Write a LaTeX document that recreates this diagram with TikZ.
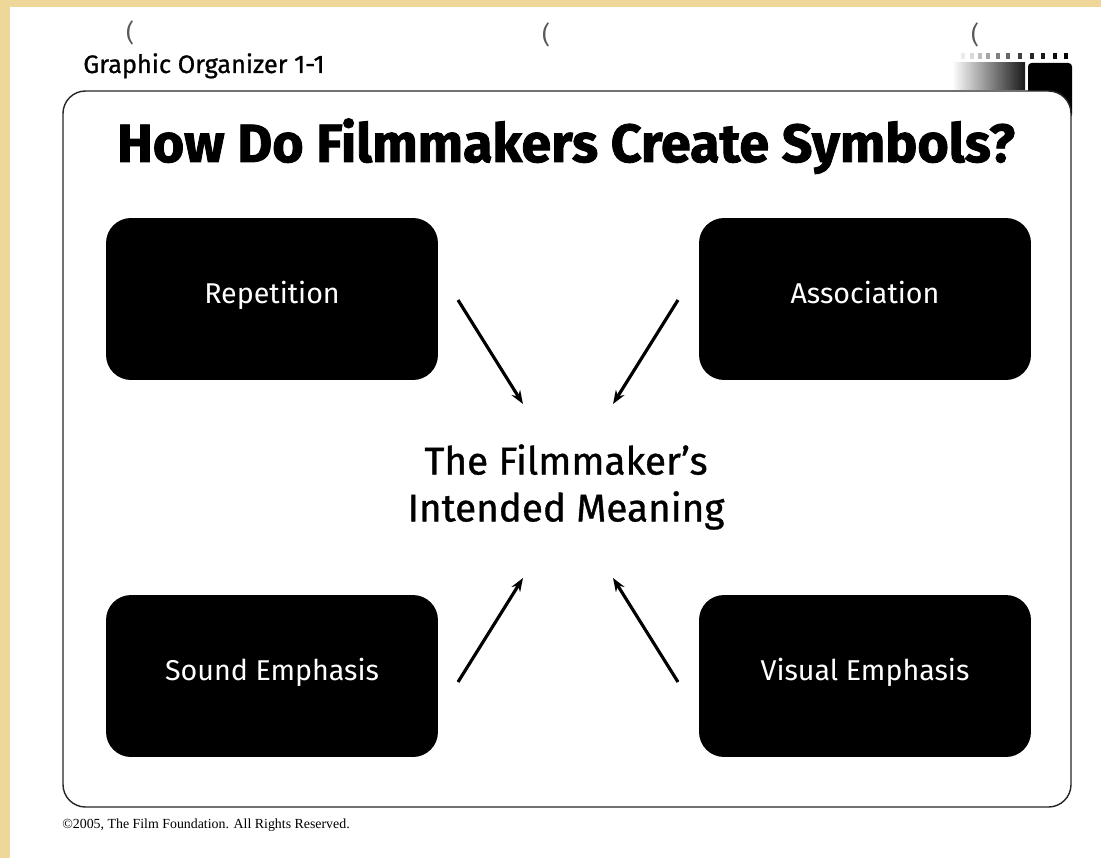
\documentclass[tikz,border=0pt]{standalone}
\usepackage{fontspec}
\setmainfont{Fira Sans}
\newfontfamily\heavyfont{Fira Sans}[FakeBold=1.6]
\newfontfamily\midfont{Fira Sans}[FakeBold=0.9]
\newfontfamily\notefont{Liberation Serif}
\usetikzlibrary{arrows.meta,positioning}
\definecolor{paper}{RGB}{238,215,152}

\begin{document}
\begin{tikzpicture}[x=0.02cm,y=-0.02cm,
			waybox/.style={rectangle, rounded corners=0.5cm, fill=black, text=white, minimum width=6.64cm, minimum height=3.24cm, text height=0.72em, text depth=0.22em, font=\fontsize{16.3}{19}\selectfont},
			link/.style={-{Stealth[length=0.27cm,width=0.2cm]}, line width=1.8pt},
			frame/.style={draw=black!85, line width=0.8pt, rounded corners=0.45cm}
			]
			\useasboundingbox (0,0) rectangle (1101,858);
			\fill[white] (0,0) rectangle (1101,858);
			\fill[paper] (0,0) rectangle (1101,7);
			\fill[paper] (0,0) rectangle (10,858);
			
			% page marks
			\node[font=\fontsize{14}{16}\selectfont, text=black!65] (mk1) at (130,33) {(};
			\node[font=\fontsize{14}{16}\selectfont, text=black!65] (mk2) at (546,35) {(};
			\node[font=\fontsize{14}{16}\selectfont, text=black!65] (mk3) at (975,35) {(};
			\node[anchor=base west, inner sep=0pt, font=\midfont\fontsize{14.4}{17}\selectfont] (org) at (83,73) {Graphic Organizer 1-1};
			
			% corner tab
			\foreach \x/\c in {963/8,972/15,980/25,988/35,998/50,1008/60,1020/75,1032/85,1043/90,1055/95,1066/100}
				\fill[black!\c] (\x-1.8,53) rectangle (\x+1.8,59);
			\shade[left color=white, middle color=black!60, right color=black!90] (952,63) rectangle (1025,90);
			\fill[black, rounded corners=2pt] (1028,63) rectangle (1072,118);
			\draw[frame, fill=white] (63,91) rectangle (1071,807);
			
			\node[anchor=base, font=\heavyfont\bfseries\fontsize{30.6}{36}\selectfont] (title) at (566,162) {How Do Filmmakers Create Symbols?};
			
			\node[waybox] (rep) at (272,299) {Repetition};
			\node[waybox] (assoc) at (865,299) {Association};
			\node[waybox] (sound) at (272,676) {Sound Emphasis};
			\node[waybox] (visual) at (865,676) {Visual Emphasis};
			
			\node[align=center, font=\midfont\fontsize{22}{26.7}\selectfont] (meaning) at (566,487) {The Filmmaker’s\\Intended Meaning};
			
			\coordinate (rep-s) at (458,300);
			\coordinate (rep-e) at (523,404);
			\coordinate (assoc-s) at (678,300);
			\coordinate (assoc-e) at (613,404);
			\coordinate (sound-s) at (458,682);
			\coordinate (sound-e) at (523,578);
			\coordinate (visual-s) at (678,682);
			\coordinate (visual-e) at (613,578);
			
			\draw[link] (rep-s) -- (rep-e);
			\draw[link] (assoc-s) -- (assoc-e);
			\draw[link] (sound-s) -- (sound-e);
			\draw[link] (visual-s) -- (visual-e);
			
			\node[anchor=base west, inner sep=0pt, font=\notefont\fontsize{7.9}{9}\selectfont] (copy) at (62,828) {©2005, The Film Foundation. All Rights Reserved.};
		\end{tikzpicture}
\end{document}
